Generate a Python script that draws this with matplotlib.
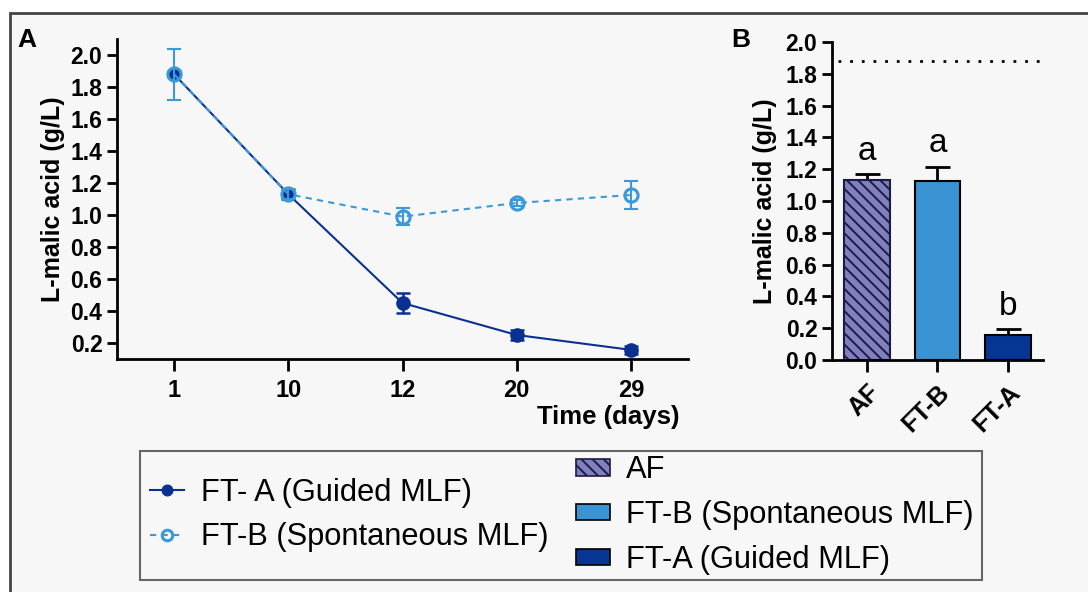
import matplotlib
matplotlib.use('Agg')
import matplotlib.pyplot as plt
from matplotlib.patches import Patch, Rectangle

plt.rcParams['font.family'] = ['Liberation Sans', 'DejaVu Sans']
plt.rcParams['hatch.linewidth'] = 1.4

# Панель A: кинетика яблочной кислоты
days = ['1', '10', '12', '20', '29']
fta_mean = [1.88, 1.13, 0.45, 0.25, 0.157]
fta_err = [0.02, 0.03, 0.06, 0.03, 0.025]
ftb_mean = [1.88, 1.13, 0.99, 1.075, 1.125]
ftb_err = [0.16, 0.03, 0.055, 0.02, 0.085]

# Панель B: итоговые значения
groups = ['AF', 'FT-B', 'FT-A']
bar_mean = [1.13, 1.125, 0.16]
bar_err = [0.04, 0.09, 0.035]
bar_letters = ['a', 'a', 'b']
af_level = 1.88

C_DARK = '#0a3092'
C_LIGHT = '#3a9ad9'
C_AF = '#8080c0'
C_FTB = '#3a93d2'
C_FTA = '#063593'
BG = '#f7f7f7'

fig = plt.figure(figsize=(10.88, 5.92), dpi=100)
fig.patch.set_facecolor('white')

# рамка вокруг всего рисунка
fig.patches.append(Rectangle((10 / 1088, -0.05), 1.05, 1 - 13 / 592 + 0.05,
                             transform=fig.transFigure, facecolor=BG,
                             edgecolor='#444444', lw=2, zorder=-10))

axA = fig.add_axes([0.1075, 0.3936, 0.5249, 0.5405])
axB = fig.add_axes([0.7647, 0.3919, 0.1939, 0.5372])

for ax in (axA, axB):
    ax.patch.set_alpha(0)
    for s in ('top', 'right'):
        ax.spines[s].set_visible(False)
    for s in ('left', 'bottom'):
        ax.spines[s].set_linewidth(2.0)
    ax.tick_params(width=2, length=7.5, pad=3)

x = list(range(len(days)))
lA, = axA.plot(x, fta_mean, '-', color=C_DARK, lw=1.5, marker='o', ms=9.5,
               mfc=C_DARK, mec=C_DARK, zorder=3)
axA.errorbar(x, fta_mean, yerr=fta_err, fmt='none', ecolor=C_DARK,
             elinewidth=1.8, capsize=5, capthick=1.8, zorder=3)
lB, = axA.plot(x, ftb_mean, '--', dashes=(3, 2.5), color=C_LIGHT, lw=1.5,
               marker='o', ms=9.5, mfc='none', mec=C_LIGHT, mew=2.2, zorder=4)
axA.errorbar(x, ftb_mean, yerr=ftb_err, fmt='none', ecolor=C_LIGHT,
             elinewidth=1.5, capsize=5, capthick=1.5, zorder=4)

axA.set_xlim(-0.5, 4.5)
axA.set_ylim(0.1, 2.1)
axA.set_xticks(x)
axA.set_xticklabels(days, fontweight='bold', fontsize=17)
yt = [0.2, 0.4, 0.6, 0.8, 1.0, 1.2, 1.4, 1.6, 1.8, 2.0]
axA.set_yticks(yt)
axA.set_yticklabels([f'{v:.1f}' for v in yt], fontweight='bold', fontsize=16.5)
axA.tick_params(axis='x', length=8.5, pad=6)
axA.set_ylabel('L-malic acid (g/L)', fontsize=18, fontweight='bold', labelpad=4)
axA.text(0.985, -0.145, 'Time (days)', transform=axA.transAxes, ha='right', va='top',
         fontsize=18.5, fontweight='bold')
fig.text(17 / 1088, 1 - 40 / 592, 'A', fontsize=19, fontweight='bold', va='center')

xb = list(range(len(groups)))
bars = axB.bar(xb, bar_mean, width=0.65, color=[C_AF, C_FTB, C_FTA],
               edgecolor='black', lw=1.5, zorder=2)
bars[0].set_hatch('\\\\\\')
bars[0].set_edgecolor('#1c1c40')
axB.errorbar(xb, bar_mean, yerr=[[0] * 3, bar_err], fmt='none', ecolor='black',
             elinewidth=2, capsize=9, capthick=2, zorder=1)
for xi, m, e, t in zip(xb, bar_mean, bar_err, bar_letters):
    axB.text(xi, m + e + 0.09, t, ha='center', va='baseline', fontsize=24)
axB.plot([-0.41, 2.5], [af_level, af_level], ls=(0, (1, 3.2)), color='black', lw=2)

axB.set_xlim(-0.5, 2.5)
axB.set_ylim(0, 2.0)
ytb = [0.0, 0.2, 0.4, 0.6, 0.8, 1.0, 1.2, 1.4, 1.6, 1.8, 2.0]
axB.set_yticks(ytb)
axB.set_yticklabels([f'{v:.1f}' for v in ytb], fontweight='bold', fontsize=16.5)
axB.set_xticks(xb)
axB.set_xticklabels(groups, rotation=45, ha='right', rotation_mode='anchor',
                    fontweight='bold', fontsize=18)
axB.tick_params(axis='x', length=8.5, pad=6)
axB.set_ylabel('L-malic acid (g/L)', fontsize=18, fontweight='bold', labelpad=6)
fig.text(731 / 1088, 1 - 40 / 592, 'B', fontsize=19, fontweight='bold', va='center')

# легенда в общей рамке
fig.patches.append(Rectangle((140 / 1088, 1 - 580 / 592), (982 - 140) / 1088, 129 / 592,
                             transform=fig.transFigure, facecolor=BG,
                             edgecolor='#666666', lw=1.5, zorder=-5))
fig.legend([lA, lB], ['FT- A (Guided MLF)', 'FT-B (Spontaneous MLF)'],
           loc='center left', bbox_to_anchor=(150 / 1088, 1 - 515 / 592),
           frameon=False, fontsize=22.2, handlelength=1.1, handletextpad=0.55,
           borderpad=0, borderaxespad=0, labelspacing=0.48, markerscale=0.8)
h_af = Patch(facecolor=C_AF, edgecolor='#1c1c40', hatch='\\\\\\', lw=1.2)
h_b = Patch(facecolor=C_FTB, edgecolor='black', lw=1.2)
h_a = Patch(facecolor=C_FTA, edgecolor='black', lw=1.2)
fig.legend([h_af, h_b, h_a], ['AF', 'FT-B (Spontaneous MLF)', 'FT-A (Guided MLF)'],
           loc='center left', bbox_to_anchor=(576 / 1088, 1 - 515 / 592),
           frameon=False, fontsize=22.2, handlelength=1.1, handleheight=0.45,
           handletextpad=0.52, borderpad=0, borderaxespad=0, labelspacing=0.48)

fig.savefig('out.png', dpi=100)
